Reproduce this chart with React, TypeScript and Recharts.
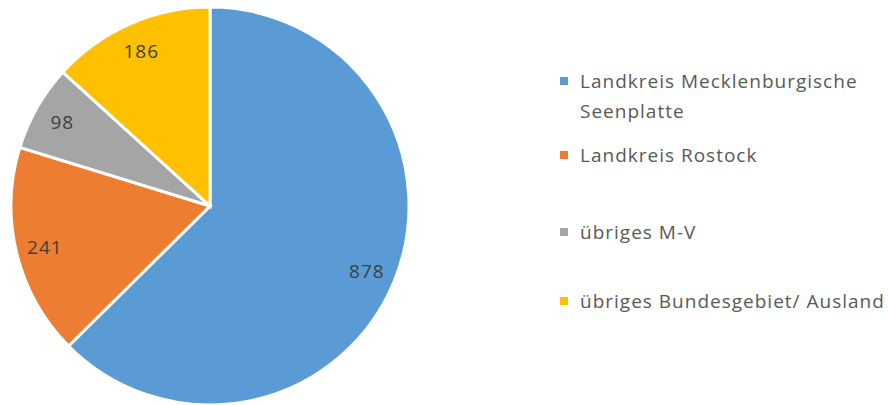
import React from "react";
import { PieChart, Pie, Cell, Legend } from "recharts";

const regions = [
  "Landkreis Mecklenburgische Seenplatte",
  "Landkreis Rostock",
  "übriges M-V",
  "übriges Bundesgebiet/ Ausland",
];
const counts = [878, 241, 98, 186];
const colors = ["#5B9BD5", "#ED7D31", "#A5A5A5", "#FFC000"];

const data = regions.map((name, i) => ({ name, value: counts[i] }));

const FONT = "'Open Sans', Lato, sans-serif";
const RADIAN = Math.PI / 180;

// first-line centre of each legend entry
const legendRows = [81, 155, 232, 301];

function renderLabel(props: any) {
  const { cx, cy, midAngle, value } = props;
  const r = 170;
  const x = cx + r * Math.cos(-midAngle * RADIAN);
  const y = cy + r * Math.sin(-midAngle * RADIAN);
  return (
    <text
      x={x}
      y={y}
      fill="#404040"
      fontSize={19}
      fontFamily={FONT}
      letterSpacing={1}
      textAnchor="middle"
      dominantBaseline="central"
    >
      {value}
    </text>
  );
}

function LegendContent() {
  return (
    <div style={{ position: "relative", width: 329, height: 405, fontFamily: FONT }}>
      {data.map((d, i) => (
        <div
          key={d.name}
          style={{
            position: "absolute",
            left: 0,
            top: legendRows[i] - 15,
            display: "flex",
            alignItems: "flex-start",
            width: 329,
          }}
        >
          <span
            style={{
              display: "inline-block",
              width: 8,
              height: 8,
              background: colors[i],
              marginTop: 11,
              marginRight: 12,
              flexShrink: 0,
            }}
          />
          <span
            style={{
              color: "#595959",
              fontSize: 19,
              lineHeight: "30px",
              letterSpacing: 1,
              width: 305,
            }}
          >
            {d.name}
          </span>
        </div>
      ))}
    </div>
  );
}

export default function App() {
  return (
    <div style={{ position: "absolute", left: 0, top: 0, width: 889, height: 405, background: "#fff" }}>
      <PieChart width={889} height={405} margin={{ top: 0, right: 0, bottom: 0, left: 0 }}>
        <Pie
          data={data}
          dataKey="value"
          nameKey="name"
          cx={210}
          cy={206}
          outerRadius={199}
          startAngle={90}
          endAngle={-270}
          stroke="#ffffff"
          strokeWidth={3}
          label={renderLabel}
          labelLine={false}
          isAnimationActive={false}
        >
          {data.map((d, i) => (
            <Cell key={d.name} fill={colors[i]} />
          ))}
        </Pie>
        <Legend
          content={<LegendContent />}
          wrapperStyle={{ position: "absolute", left: 560, top: 0, width: 329, height: 405 }}
        />
      </PieChart>
    </div>
  );
}
